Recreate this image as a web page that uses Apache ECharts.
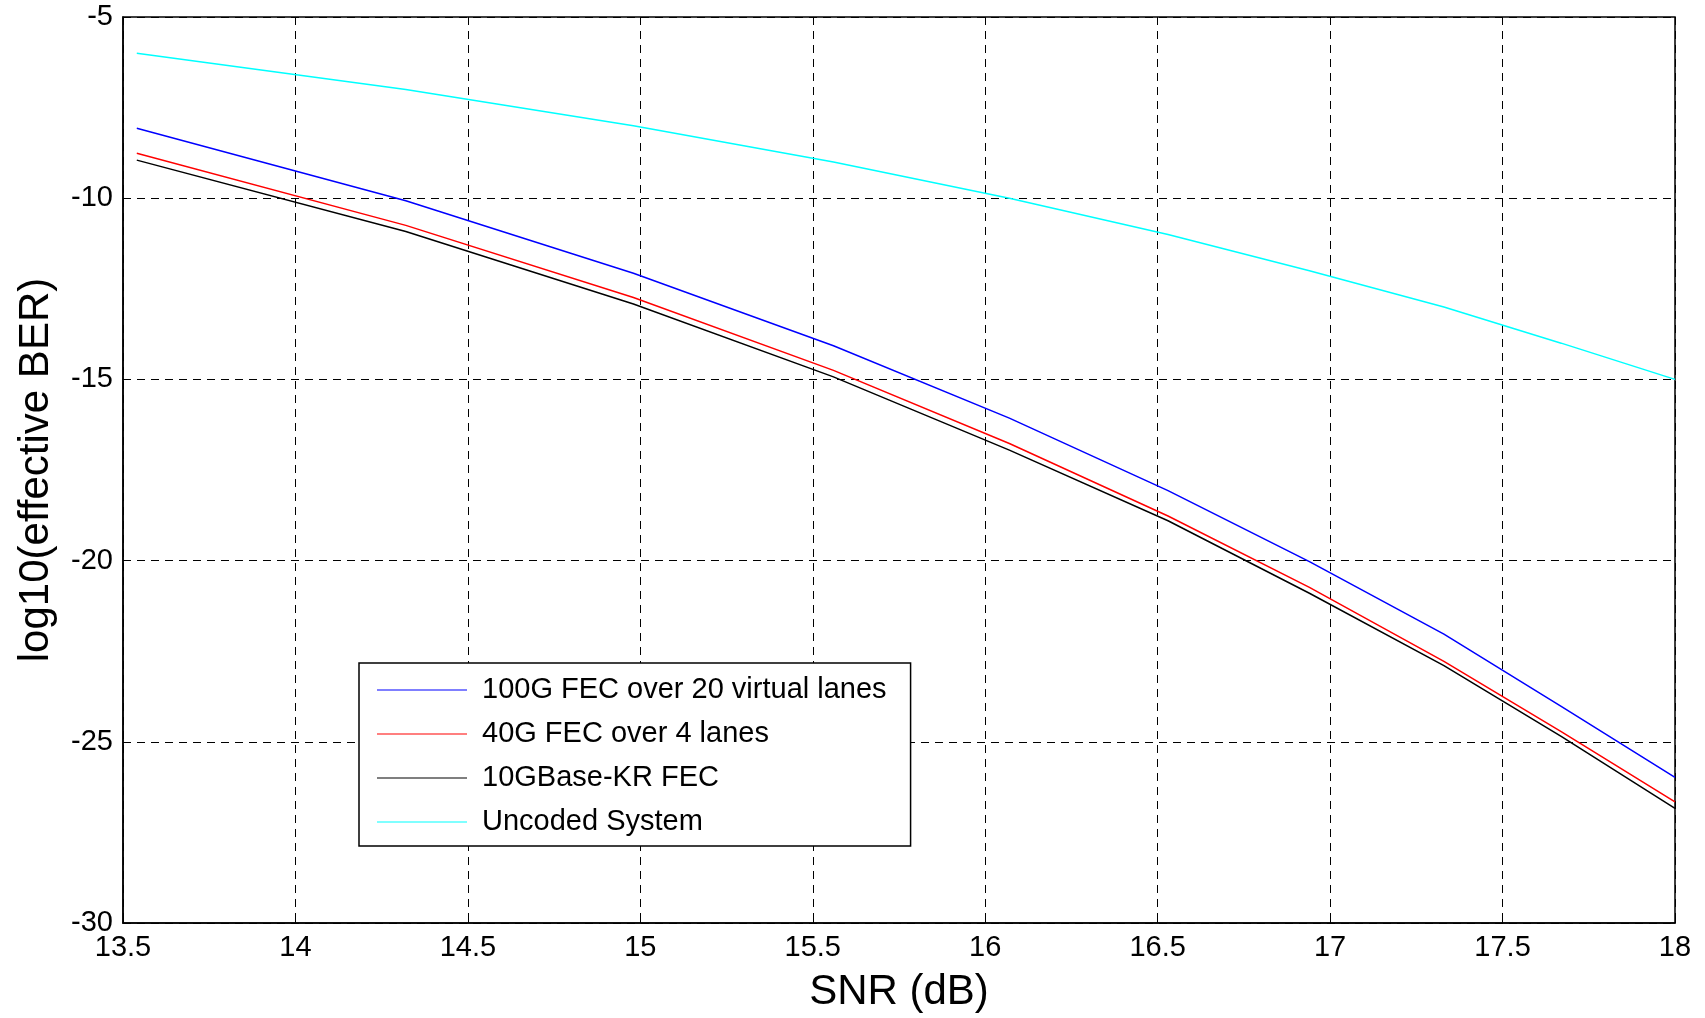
<!DOCTYPE html>
<html>
<head>
<meta charset="utf-8">
<script src="https://cdn.jsdelivr.net/npm/echarts@6/dist/echarts.min.js"></script>
<style>
html,body{margin:0;padding:0;background:#fff;}
#chart{width:1705px;height:1018px;}
</style>
</head>
<body>
<div id="chart"></div>
<script>
// SNR (dB) sample points
const snr = [13.54, 14.32, 14.98, 15.56, 16.07, 16.53, 16.94, 17.33, 17.67, 18.0];
// log10(effective BER)
const fec100g = [-8.07, -10.07, -12.07, -14.07, -16.07, -18.07, -20.03, -22.03, -24.02, -25.98];
const fec40g  = [-8.76, -10.75, -12.74, -14.75, -16.77, -18.77, -20.74, -22.78, -24.72, -26.66];
const fec10g  = [-8.95, -10.92, -12.92, -14.93, -16.95, -18.90, -20.90, -22.90, -24.85, -26.84];
const uncoded = [-6, -7, -8, -9, -10, -11, -12, -13, -14, -15];
const seriesNames = ['100G FEC over 20 virtual lanes', '40G FEC over 4 lanes', '10GBase-KR FEC', 'Uncoded System'];
const seriesColors = ['#0000ff', '#ff0000', '#000000', '#00ffff'];
const seriesValues = [fec100g, fec40g, fec10g, uncoded];

const FONT = '"Liberation Sans", Arial, Helvetica, sans-serif';
const chart = echarts.init(document.getElementById('chart'), null, {renderer: 'canvas'});

const series = seriesValues.map((vals, i) => ({
  name: seriesNames[i],
  type: 'line',
  data: snr.map((x, j) => [x, vals[j]]),
  symbol: 'none',
  showSymbol: false,
  smooth: false,
  animation: false,
  lineStyle: {color: seriesColors[i], width: 1.5},
  itemStyle: {color: seriesColors[i]},
  z: 3 + i
}));

chart.setOption({
  backgroundColor: '#ffffff',
  animation: false,
  grid: {
    left: 123, right: 30, top: 17, bottom: 94,
    show: true, borderColor: '#000', borderWidth: 1.5, backgroundColor: 'transparent'
  },
  legend: {
    orient: 'vertical',
    left: 359, top: 663,
    data: seriesNames,
    itemWidth: 90, itemHeight: 14,
    itemGap: 14,
    padding: [12, 24, 9, 18],
    borderColor: '#000', borderWidth: 1.5,
    backgroundColor: '#fff',
    textStyle: {fontFamily: FONT, fontSize: 29, color: '#000', lineHeight: 30, padding: [0, 0, 0, 10]},
    icon: 'path://M0,0 L100,0 L100,1 L0,1 Z'
  },
  xAxis: {
    type: 'value',
    min: 13.5, max: 18, interval: 0.5,
    name: 'SNR (dB)',
    nameLocation: 'middle',
    nameGap: 48,
    nameTextStyle: {fontFamily: FONT, fontSize: 42, color: '#000'},
    axisLine: {show: true, onZero: false, lineStyle: {color: '#000', width: 1.5}},
    axisTick: {show: true, inside: true, length: 8, lineStyle: {color: '#000'}},
    axisLabel: {fontFamily: FONT, fontSize: 29, color: '#000', margin: 10,
      formatter: v => String(+v.toFixed(1))},
    splitLine: {show: true, lineStyle: {color: '#000', type: [8, 6], width: 1}}
  },
  yAxis: {
    type: 'value',
    min: -30, max: -5, interval: 5,
    name: 'log10(effective BER)',
    nameLocation: 'middle',
    nameGap: 66,
    nameTextStyle: {fontFamily: FONT, fontSize: 42, color: '#000'},
    axisLine: {show: true, onZero: false, lineStyle: {color: '#000', width: 1.5}},
    axisTick: {show: true, inside: true, length: 8, lineStyle: {color: '#000'}},
    axisLabel: {fontFamily: FONT, fontSize: 29, color: '#000', margin: 10},
    splitLine: {show: true, lineStyle: {color: '#000', type: [8, 6], width: 1}}
  },
  series: series
});
</script>
</body>
</html>
